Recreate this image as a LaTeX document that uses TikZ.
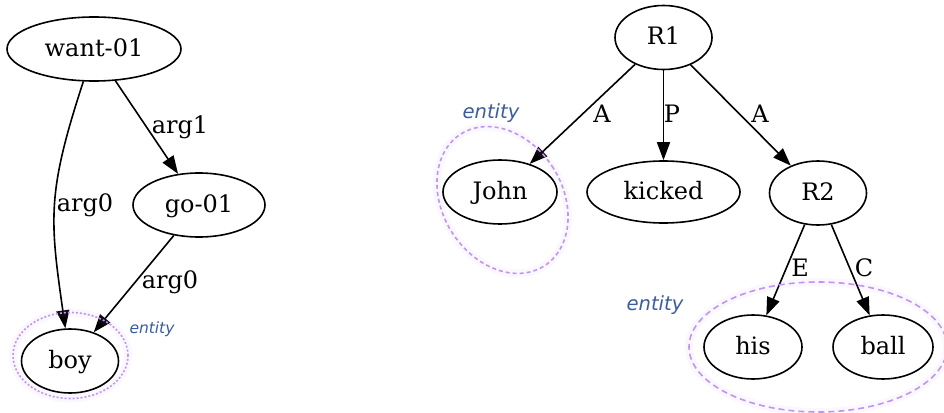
\documentclass[tikz,border=0pt]{standalone}
\usepackage{fontspec}
\setmainfont{DejaVu Serif}
\newfontfamily\entfont{DejaVu Sans}
\usetikzlibrary{arrows.meta,shapes.geometric}
\definecolor{entblue}{RGB}{58,92,160}
\definecolor{entpurple}{RGB}{190,150,238}
\tikzset{
 nd/.style={draw, ellipse, line width=1.6pt, inner sep=0pt, text height=15pt, text depth=0pt, font=\fontsize{24}{28}\selectfont},
 lbl/.style={anchor=base, inner sep=0pt, font=\fontsize{24}{28}\selectfont},
 edgearrow/.style={-{Triangle[length=18pt,width=13pt]}, line width=1.6pt},
 entlbl/.style={anchor=base, inner sep=0pt, text=entblue, font=\entfont\itshape\fontsize{19.5}{22}\selectfont},
 entlblsmall/.style={entlbl, font=\entfont\itshape\fontsize{15.5}{18}\selectfont},
 clus/.style={draw=entpurple, line width=1.6pt},
 glow/.style={draw=entpurple, draw opacity=0.08, line width=8pt},
}
\begin{document}
\begin{tikzpicture}[x=1pt,y=-1pt]
\useasboundingbox (0,0) rectangle (944,412);
% left graph
\node[nd, minimum width=174pt, minimum height=64pt] (want) at (94,49) {want-01};
\node[nd, minimum width=132pt, minimum height=64pt] (go) at (199,205) {go-01};
\node[nd, minimum width=97pt, minimum height=64pt] (boy) at (70,361) {boy};
\draw[edgearrow] (want) .. controls (46.8,193) and (49.8,219) .. (boy);
\draw[edgearrow] (want) -- (go);
\draw[edgearrow] (go) -- (boy);
\node[lbl] (l1) at (85,211) {arg0};
\node[lbl] (l2) at (180,133) {arg1};
\node[lbl] (l3) at (170,288) {arg0};
% right graph
\node[nd, minimum width=97pt, minimum height=64pt] (R1) at (663.5,37.5) {R1};
\node[nd, minimum width=114pt, minimum height=64pt] (John) at (500,192) {John};
\node[nd, minimum width=153pt, minimum height=62pt] (kicked) at (663.5,192) {kicked};
\node[nd, minimum width=97pt, minimum height=64pt] (R2) at (818,193) {R2};
\node[nd, minimum width=98pt, minimum height=64pt] (his) at (753,347) {his};
\node[nd, minimum width=100pt, minimum height=64pt] (ball) at (883,347) {ball};
\draw[edgearrow] (R1) -- (John);
\draw[edgearrow] (R1) -- (kicked);
\draw[edgearrow] (R1) -- (R2);
\draw[edgearrow] (R2) -- (his);
\draw[edgearrow] (R2) -- (ball);
\node[lbl] (l4) at (602,122) {A};
\node[lbl] (l5) at (672,122) {P};
\node[lbl] (l6) at (760,122) {A};
\node[lbl] (l7) at (800,276) {E};
\node[lbl] (l8) at (864,276) {C};
% entity clusters
\draw[glow] (70.5,355.5) ellipse [x radius=57.5pt, y radius=43pt];
\draw[clus, dash pattern=on 2pt off 2pt] (70.5,355.5) ellipse [x radius=57.5pt, y radius=43pt];
\draw[glow, rotate around={32:(502.5,200)}] (502.5,200) ellipse [x radius=60pt, y radius=78pt];
\draw[clus, dash pattern=on 4pt off 3pt, rotate around={32:(502.5,200)}] (502.5,200) ellipse [x radius=60pt, y radius=78pt];
\draw[glow] (818,347) ellipse [x radius=129pt, y radius=65pt];
\draw[clus, dash pattern=on 6pt off 4pt] (818,347) ellipse [x radius=129pt, y radius=65pt];
\node[entlblsmall] (e1) at (152,333) {entity};
\node[entlbl] (e2) at (491,118) {entity};
\node[entlbl] (e3) at (655,310) {entity};
\end{tikzpicture}
\end{document}
